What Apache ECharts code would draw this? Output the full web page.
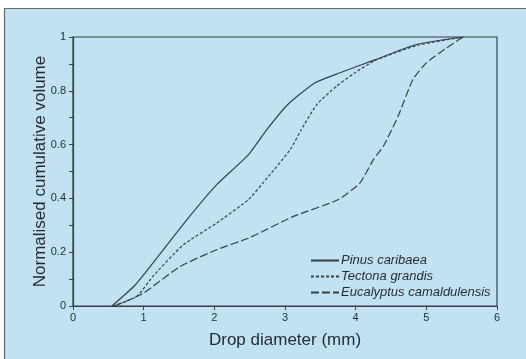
<!DOCTYPE html>
<html>
<head>
<meta charset="utf-8">
<script src="https://cdn.jsdelivr.net/npm/echarts@6/dist/echarts.min.js"></script>
<style>
  html, body { margin: 0; padding: 0; background: #ffffff; }
  #chart { width: 526px; height: 359px; }
</style>
</head>
<body>
<div id="chart"></div>
<script>
// Cumulative spray volume against drop diameter for three species
const seriesNames = ['Pinus caribaea', 'Tectona grandis', 'Eucalyptus camaldulensis'];

const pinusX = [0.55, 0.88, 1.28, 1.65, 2.03, 2.48, 2.74, 3.04, 3.42, 3.78, 4.27, 4.86, 5.52];
const pinusY = [0.0, 0.078, 0.21, 0.333, 0.45, 0.562, 0.655, 0.749, 0.829, 0.867, 0.915, 0.972, 1.0];

const tectonaX = [0.57, 0.9, 1.13, 1.56, 2.03, 2.48, 2.76, 3.07, 3.23, 3.45, 3.73, 3.99, 4.27, 4.86, 5.52];
const tectonaY = [0.0, 0.035, 0.11, 0.227, 0.308, 0.395, 0.48, 0.58, 0.655, 0.749, 0.817, 0.867, 0.912, 0.968, 1.0];

const eucalyptusX = [0.59, 0.99, 1.51, 2.03, 2.48, 3.12, 3.75, 4.06, 4.25, 4.39, 4.6, 4.81, 5.0, 5.29, 5.52];
const eucalyptusY = [0.0, 0.047, 0.146, 0.209, 0.252, 0.333, 0.395, 0.457, 0.544, 0.593, 0.705, 0.842, 0.904, 0.96, 1.0];

const xTicks = { min: 0, max: 6, step: 1 };
const yTicks = { min: 0, max: 1, step: 0.2 };

function pairs(xs, ys) { return xs.map((x, i) => [x, ys[i]]); }

const ink = '#34414b';
const textInk = '#1f2a33';
const font = '"Liberation Sans", Arial, Helvetica, sans-serif';

const chart = echarts.init(document.getElementById('chart'), null, { renderer: 'canvas' });

function curve(name, xs, ys, dash) {
  return {
    name: name, type: 'line', symbol: 'none',
    smooth: 0.18,
    data: pairs(xs, ys),
    lineStyle: { color: ink, width: 1.2, type: dash },
    itemStyle: { color: ink }
  };
}

chart.setOption({
  animation: false,
  backgroundColor: '#ffffff',
  graphic: [{
    type: 'rect',
    shape: { x: 4.5, y: 8.5, width: 540, height: 370 },
    style: { fill: '#c2e1f2', stroke: '#5d6a72', lineWidth: 1.2 },
    z: -10
  }],
  grid: {
    left: 73, right: 29, top: 37, bottom: 53,
    show: true, borderColor: ink, borderWidth: 1.2, backgroundColor: 'transparent'
  },
  legend: {
    orient: 'vertical',
    left: 305, top: 249,
    itemWidth: 28, itemHeight: 10, itemGap: 3,
    data: seriesNames,
    itemStyle: { opacity: 0 },
    textStyle: { fontFamily: font, fontSize: 13, fontStyle: 'italic', color: textInk, padding: [0, 0, 0, -3] }
  },
  xAxis: {
    type: 'value',
    min: xTicks.min, max: xTicks.max, interval: xTicks.step,
    name: 'Drop diameter (mm)',
    nameLocation: 'middle', nameGap: 26,
    nameTextStyle: { fontFamily: font, fontSize: 17, color: textInk },
    axisLine: { show: true, lineStyle: { color: ink, width: 1.2 } },
    axisTick: { show: true, inside: false, length: 4, lineStyle: { color: ink } },
    axisLabel: { fontFamily: font, fontSize: 11, color: textInk, margin: 6 },
    splitLine: { show: false }
  },
  yAxis: {
    type: 'value',
    min: yTicks.min, max: yTicks.max, interval: yTicks.step,
    name: 'Normalised cumulative volume',
    nameLocation: 'middle', nameGap: 24, nameMoveOverlap: false,
    nameTextStyle: { fontFamily: font, fontSize: 17, color: textInk },
    axisLine: { show: true, lineStyle: { color: ink, width: 1.2 } },
    axisTick: { show: true, inside: false, length: 4, lineStyle: { color: ink } },
    minorTick: { show: true, splitNumber: 2, length: 4, lineStyle: { color: ink } },
    axisLabel: { fontFamily: font, fontSize: 11, color: textInk, margin: 7 },
    splitLine: { show: false }
  },
  series: [
    curve(seriesNames[0], pinusX, pinusY, 'solid'),
    curve(seriesNames[1], tectonaX, tectonaY, [3, 2]),
    curve(seriesNames[2], eucalyptusX, eucalyptusY, [8, 3])
  ]
});
</script>
</body>
</html>
